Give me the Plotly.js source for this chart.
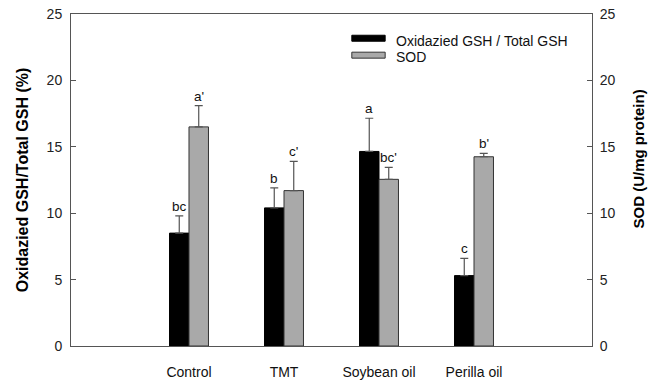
<!DOCTYPE html>
<html>
<head>
<meta charset="utf-8">
<script src="https://cdn.plot.ly/plotly-3.0.1.min.js"></script>
<style>html,body{margin:0;padding:0;background:#fff;}#chart{width:667px;height:380px;}</style>
</head>
<body>
<div id="chart"></div>
<script>
const categories = ["Control", "TMT", "Soybean oil", "Perilla oil"];
const gshRatio = [8.5, 10.4, 14.65, 5.3];
const gshErr = [1.3, 1.5, 2.5, 1.3];
const gshLetters = ["bc", "b", "a", "c"];
const sod = [16.5, 11.7, 12.55, 14.25];
const sodErr = [1.6, 2.2, 0.9, 0.25];
const sodLetters = ["a'", "c'", "bc'", "b'"];
const seriesNames = ["Oxidazied GSH / Total GSH", "SOD"];
const yTicks = [0, 5, 10, 15, 20, 25];

const FONT = "Liberation Sans, Arial, sans-serif";

const traces = [
  {
    type: "bar", name: seriesNames[0], x: categories, y: gshRatio,
    xaxis: "x", yaxis: "y", offsetgroup: "g1",
    marker: {color: "#000000", line: {color: "#000000", width: 1}},
    error_y: {type: "data", array: gshErr, symmetric: false, arrayminus: gshErr.map(() => 0), color: "#555555", thickness: 1.2, width: 4},
    showlegend: false, hoverinfo: "skip"
  },
  {
    type: "bar", name: seriesNames[1], x: categories, y: sod,
    xaxis: "x", yaxis: "y2", offsetgroup: "g2",
    marker: {color: "#a9a9a9", line: {color: "#333333", width: 1}},
    error_y: {type: "data", array: sodErr, symmetric: false, arrayminus: sodErr.map(() => 0), color: "#555555", thickness: 1.2, width: 4},
    showlegend: false, hoverinfo: "skip"
  }
];

const annotations = [];
categories.forEach((c, i) => {
  annotations.push({x: c, y: gshRatio[i] + gshErr[i], xref: "x", yref: "y", text: gshLetters[i],
    showarrow: false, xshift: -9.75, yanchor: "bottom", yshift: 0, font: {family: FONT, size: 13.5, color: "#111"}});
  annotations.push({x: c, y: sod[i] + sodErr[i], xref: "x", yref: "y2", text: sodLetters[i],
    showarrow: false, xshift: 9.75, yanchor: "bottom", yshift: 0, font: {family: FONT, size: 13.5, color: "#111"}});
});
// legend text
annotations.push({x: 0.62, y: 0.92, xref: "paper", yref: "paper", text: seriesNames[0], showarrow: false,
  xanchor: "left", yanchor: "middle", font: {family: FONT, size: 14, color: "#111"}});
annotations.push({x: 0.62, y: 0.871, xref: "paper", yref: "paper", text: seriesNames[1], showarrow: false,
  xanchor: "left", yanchor: "middle", font: {family: FONT, size: 14, color: "#111"}});
// right axis title
annotations.push({x: (648 - 71) / 521, y: (346 - 159) / 332, xref: "paper", yref: "paper",
  text: "<b>SOD (U/mg protein)</b>", showarrow: false,
  textangle: -90, font: {family: FONT, size: 15, color: "#000"}});

const shapes = [
  {type: "rect", xref: "paper", yref: "paper", x0: 0.539, x1: 0.603, y0: 0.918, y1: 0.936,
    fillcolor: "#000", line: {color: "#000", width: 1}},
  {type: "rect", xref: "paper", yref: "paper", x0: 0.539, x1: 0.603, y0: 0.867, y1: 0.885,
    fillcolor: "#a9a9a9", line: {color: "#333", width: 1}}
];

const layout = {
  width: 667, height: 380,
  margin: {l: 71, r: 75, t: 14, b: 34},
  paper_bgcolor: "#fff", plot_bgcolor: "#fff",
  barmode: "group", bargap: 0.59, bargroupgap: 0,
  font: {family: FONT, size: 14, color: "#222"},
  xaxis: {
    range: [-1.242, 4.242], showgrid: false, zeroline: false,
    showline: true, linecolor: "#555", linewidth: 1, mirror: true,
    ticks: "", ticklabelstandoff: 13,
    tickfont: {family: FONT, size: 14, color: "#111"}
  },
  yaxis: {
    range: [0, 25], tickvals: yTicks, showgrid: false, zeroline: false,
    showline: true, linecolor: "#555", linewidth: 1,
    ticks: "inside", ticklen: 5, tickcolor: "#555", ticklabelstandoff: 5,
    tickfont: {family: FONT, size: 14, color: "#222"},
    title: {text: "<b>Oxidazied GSH/Total GSH (%)</b>", font: {family: FONT, size: 16, color: "#000"}, standoff: 14}
  },
  yaxis2: {
    range: [0, 25], tickvals: yTicks, overlaying: "y", side: "right", showgrid: false, zeroline: false,
    showline: true, linecolor: "#555", linewidth: 1,
    ticks: "inside", ticklen: 5, tickcolor: "#555", ticklabelstandoff: 4,
    tickfont: {family: FONT, size: 14, color: "#222"}
  },
  annotations: annotations,
  shapes: shapes,
  showlegend: false
};

Plotly.newPlot("chart", traces, layout, {displayModeBar: false, staticPlot: true});
</script>
</body>
</html>
